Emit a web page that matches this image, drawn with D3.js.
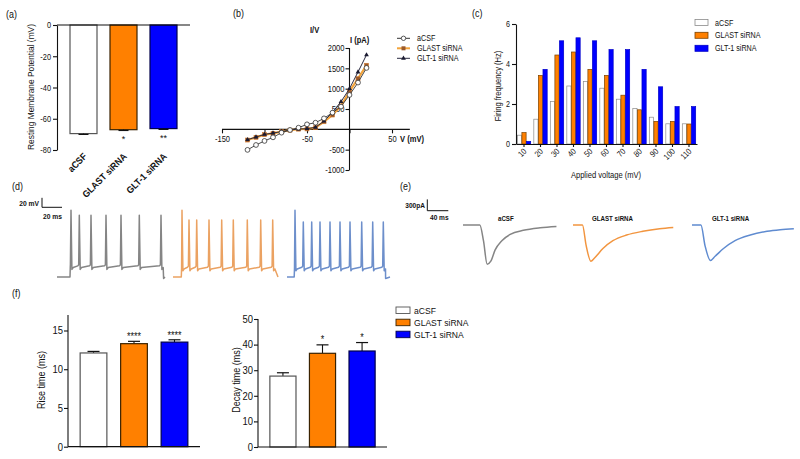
<!DOCTYPE html>
<html><head><meta charset="utf-8">
<script src="https://cdn.jsdelivr.net/npm/d3@7"></script>
<style>
body{margin:0;background:#fff}
svg{display:block;font-family:"Liberation Sans",Arial,Helvetica,sans-serif}
</style></head><body>
<svg id="c" width="800" height="459"></svg>
<script>
// ================= DATA =================
const groups = ["aCSF", "GLAST siRNA", "GLT-1 siRNA"];
// (a) resting membrane potential (mV)
const rmpMean = [-69.5, -67.0, -66.3];
const rmpErr = [0.5, 0.5, 0.5];
const rmpStars = ["", "*", "**"];
const rmpTicks = [0, -20, -40, -60, -80];
// (b) I/V curves
const ivVoltage = [-120, -110, -100, -90, -80, -70, -60, -50, -40, -30, -20, -10, 0, 10, 20];
const ivACSF  = [-505, -385, -285, -197, -82, -16, 40, 123, 163, 270, 410, 560, 845, 1150, 1510];
const ivGLAST = [-263, -197, -130, -98, -58, -20, 5, 10, 40, 187, 352, 575, 935, 1245, 1575];
const ivGLT1  = [-255, -190, -125, -92, -55, -18, 8, 15, 50, 200, 420, 680, 1000, 1410, 1830];
const ivXTicks = [-150, -100, -50, 0, 50];
const ivXLabels = ["-150", "", "-50", "", "50"];
const ivYTicks = [-1000, -500, 500, 1000, 1500, 2000];
// (c) firing frequency
const voltSteps = ["10", "20", "30", "40", "50", "60", "70", "80", "90", "100", "110"];
const ffACSF  = [0.44, 1.24, 2.12, 2.90, 3.13, 2.79, 2.24, 1.78, 1.34, 1.01, 1.01];
const ffGLAST = [0.57, 3.43, 4.45, 4.60, 3.73, 3.43, 2.44, 1.71, 1.13, 1.13, 1.00];
const ffGLT1  = [0.13, 3.73, 5.16, 5.31, 5.16, 4.72, 4.72, 3.73, 2.86, 1.87, 1.87];
const ffTicks = [0, 2, 4, 6];
// (d) action potential traces (ms, mV)
const apSpikesACSF  = [14, 22.3, 34, 49, 64, 82.3, 104];
const apPeaksACSF   = [71, 60, 60, 60, 60, 60, 60];
const apSpikesGLAST = [9, 16, 23.7, 36, 48.7, 60.3, 74.3, 87.7, 99.7];
const apPeaksGLAST  = [71, 50, 50, 50, 50, 50, 50, 50, 50];
const apSpikesGLT1  = [8, 16.3, 24.7, 33, 43, 53, 63, 74.7, 85.7, 96.3];
const apPeaksGLT1   = [71, 46, 46, 46, 46, 46, 46, 46, 46, 46];
const apStepOn   = [13, 8.3, 7.2];
const apStepOff  = [106, 101, 98];
const apEnd      = [108, 105, 103];
const apBase     = [-70, -70, -70];
const apPlateau  = [-48, -51, -51];
// (e) EPSC traces (ms, pA)
const epscTimeACSF  = [0, 32, 39, 46, 53, 61, 74, 90, 115, 147, 178];
const epscCurACSF   = [0, 0, -417, -1040, -960, -667, -417, -250, -142, -75, -42];
const epscTimeGLAST = [0, 18, 25, 34, 41, 57, 76, 102, 133, 165, 191];
const epscCurGLAST  = [0, 0, -542, -960, -875, -625, -417, -267, -167, -100, -67];
const epscTimeGLT1  = [0, 17, 25, 35, 44, 60, 82, 111, 143, 168, 194];
const epscCurGLT1   = [0, 0, -560, -940, -830, -625, -417, -267, -167, -125, -100];
// (f) rise / decay time (ms)
const riseMean = [12.1, 13.3, 13.5];
const riseErr  = [0.2, 0.3, 0.3];
const riseStars = ["", "****", "****"];
const riseTicks = [0, 5, 10, 15];
const decayMean = [27.7, 36.6, 37.5];
const decayErr  = [1.3, 3.3, 3.3];
const decayStars = ["", "*", "*"];
const decayTicks = [0, 10, 20, 30, 40, 50];

// ================= STYLE =================
const barFill = ["#ffffff", "#ff8000", "#0000ff"];
const barStroke = ["#555555", "#3a2200", "#00004a"];
const traceColor = ["#858585", "#eba262", "#6d8fcb"];
const epscColor = ["#858585", "#f2953f", "#5f8bd0"];
const INK = "#111";

const svg = d3.select("#c");

function styleAxis(g, size) {
  g.attr("font-size", size).attr("font-family", null);
  g.selectAll(".domain").attr("stroke", INK).attr("stroke-width", 1.1);
  g.selectAll(".tick line").attr("stroke", INK).attr("stroke-width", 1.1);
  g.selectAll(".tick text").attr("fill", INK);
}
function condense(sel, f) {
  sel.each(function () {
    const w = this.getComputedTextLength();
    if (w > 0) d3.select(this).attr("textLength", w * f).attr("lengthAdjust", "spacingAndGlyphs");
  });
}
function label(g, txt, x, y, size, opts = {}) {
  const t = g.append("text").attr("x", x).attr("y", y).attr("font-size", size)
    .attr("fill", INK).text(txt);
  if (opts.anchor) t.attr("text-anchor", opts.anchor);
  if (opts.bold) t.attr("font-weight", "bold");
  if (opts.rotate) t.attr("transform", `rotate(${opts.rotate},${x},${y})`);
  return t;
}

// ================= PANEL LABELS =================
const gL = svg.append("g");
label(gL, "(a)", 6, 18, 10.5);
label(gL, "(b)", 233, 17, 10.5);
label(gL, "(c)", 472, 17, 10.5);
label(gL, "(d)", 12, 190, 10.5);
label(gL, "(e)", 400, 190, 10.5);
label(gL, "(f)", 12, 297, 10.5);
condense(gL.selectAll("text"), 0.85);

// ================= (a) =================
{
  const g = svg.append("g");
  const x = d3.scaleBand().domain(groups).range([57, 190]).paddingInner(0.325).paddingOuter(0.325);
  const y = d3.scaleLinear().domain([-80, 0]).range([150, 25]);
  g.selectAll("rect").data(groups).join("rect")
    .attr("x", d => x(d)).attr("width", x.bandwidth())
    .attr("y", y(0)).attr("height", (d, i) => y(rmpMean[i]) - y(0))
    .attr("fill", (d, i) => barFill[i]).attr("stroke", (d, i) => barStroke[i]).attr("stroke-width", 1.2);
  groups.forEach((d, i) => {
    const cx = x(d) + x.bandwidth() / 2;
    const y1 = y(rmpMean[i]), y2 = y(rmpMean[i] - rmpErr[i]);
    g.append("line").attr("x1", cx).attr("x2", cx).attr("y1", y1).attr("y2", y2).attr("stroke", INK);
    g.append("line").attr("x1", cx - 5).attr("x2", cx + 5).attr("y1", y2).attr("y2", y2).attr("stroke", INK).attr("stroke-width", 1.2);
    if (rmpStars[i]) label(g, rmpStars[i], cx, y2 + 12, 9, { anchor: "middle" }).attr("class", "star");
    label(g, d, cx + 4, 157, 9.5, { anchor: "end", bold: true, rotate: -45 }).attr("class", "xl");
  });
  g.append("g").attr("transform", "translate(57,0)")
    .call(d3.axisLeft(y).tickValues(rmpTicks).tickFormat(d => String(d)).tickSize(4).tickPadding(2).tickSizeOuter(0))
    .call(styleAxis, 9);
  g.append("line").attr("x1", 57).attr("x2", 190).attr("y1", y(0)).attr("y2", y(0)).attr("stroke", INK).attr("stroke-width", 1.2);
  label(g, "Resting Membrane Potential (mV)", 34, 87, 9.5, { anchor: "middle", rotate: -90 }).attr("class", "yl");
  condense(g.selectAll(".tick text"), 0.82);
  condense(g.selectAll(".xl"), 0.92);
  condense(g.selectAll(".yl"), 0.88);
}

// ================= (b) =================
{
  const g = svg.append("g");
  const x = d3.scaleLinear().domain([-150, 50]).range([222, 392]);
  const y = d3.scaleLinear().domain([-1000, 2000]).range([170, 48]);
  const xa = g.append("g").attr("transform", `translate(0,${y(0)})`)
    .call(d3.axisBottom(x).tickValues(ivXTicks).tickFormat((d, i) => ivXLabels[i]).tickSize(4).tickPadding(2).tickSizeOuter(0))
    .call(styleAxis, 9);
  xa.select(".domain").remove();
  g.append("line").attr("x1", x(-150)).attr("x2", x(71)).attr("y1", y(0)).attr("y2", y(0)).attr("stroke", INK).attr("stroke-width", 1.1);
  g.append("g").attr("transform", `translate(${x(0)},0)`)
    .call(d3.axisLeft(y).tickValues(ivYTicks).tickFormat(d => String(d)).tickSize(4).tickPadding(1).tickSizeOuter(0))
    .call(styleAxis, 9);
  g.select("g:last-child .domain").attr("d", `M0,${y(-1000)}V${y(2000)}`);
  const line = d3.line().x(d => x(d[0])).y(d => y(d[1]));
  const pts = arr => ivVoltage.map((v, i) => [v, arr[i]]);
  // GLAST
  g.append("path").attr("d", line(pts(ivGLAST))).attr("fill", "none").attr("stroke", "#f3a43b").attr("stroke-width", 2.2);
  g.selectAll(".sq").data(pts(ivGLAST)).join("rect").attr("class", "sq")
    .attr("x", d => x(d[0]) - 2).attr("y", d => y(d[1]) - 2).attr("width", 4).attr("height", 4)
    .attr("fill", "#9c5a2a").attr("stroke", "#d07a30").attr("stroke-width", 0.6);
  // GLT-1
  g.append("path").attr("d", line(pts(ivGLT1))).attr("fill", "none").attr("stroke", "#2a2a40").attr("stroke-width", 1);
  g.selectAll(".tr").data(pts(ivGLT1)).join("path").attr("class", "tr")
    .attr("d", d3.symbol(d3.symbolTriangle, 10)).attr("transform", d => `translate(${x(d[0])},${y(d[1])})`)
    .attr("fill", "#1a1a30");
  // aCSF
  g.append("path").attr("d", line(pts(ivACSF))).attr("fill", "none").attr("stroke", "#333").attr("stroke-width", 0.9);
  g.selectAll(".ci").data(pts(ivACSF)).join("circle").attr("class", "ci")
    .attr("cx", d => x(d[0])).attr("cy", d => y(d[1])).attr("r", 2.4)
    .attr("fill", "#fff").attr("stroke", "#333").attr("stroke-width", 0.8);
  label(g, "I/V", 310, 33, 9, { bold: true }).attr("class", "t");
  label(g, "I (pA)", 350, 43, 9, { bold: true }).attr("class", "t");
  label(g, "V (mV)", 400, 142, 9, { bold: true }).attr("class", "t");
  // legend
  const lg = g.append("g");
  const ly = [38.3, 48.3, 58.3];
  lg.append("line").attr("x1", 397).attr("x2", 410).attr("y1", ly[0]).attr("y2", ly[0]).attr("stroke", "#333");
  lg.append("circle").attr("cx", 403.5).attr("cy", ly[0]).attr("r", 2.2).attr("fill", "#fff").attr("stroke", "#333").attr("stroke-width", 0.8);
  lg.append("line").attr("x1", 397).attr("x2", 410).attr("y1", ly[1]).attr("y2", ly[1]).attr("stroke", "#f3a43b").attr("stroke-width", 2);
  lg.append("rect").attr("x", 401.5).attr("y", ly[1] - 2).attr("width", 4).attr("height", 4).attr("fill", "#9c5a2a");
  lg.append("line").attr("x1", 397).attr("x2", 410).attr("y1", ly[2]).attr("y2", ly[2]).attr("stroke", "#2a2a40");
  lg.append("path").attr("d", d3.symbol(d3.symbolTriangle, 10)).attr("transform", `translate(403.5,${ly[2]})`).attr("fill", "#1a1a30");
  groups.forEach((d, i) => label(lg, d, 417, ly[i] + 3, 8.5).attr("class", "lt"));
  condense(g.selectAll("text"), 0.84);
}

// ================= (c) =================
{
  const g = svg.append("g");
  const x = d3.scaleBand().domain(voltSteps).range([516, 697]).paddingInner(0.19).paddingOuter(0.08);
  const xs = d3.scaleBand().domain(groups).range([0, x.bandwidth()]).paddingInner(0.08);
  const y = d3.scaleLinear().domain([0, 6]).range([144, 24]);
  const series = [ffACSF, ffGLAST, ffGLT1];
  const cStroke = ["#8a8a8a", "#7a4200", "#0000c8"];
  voltSteps.forEach((v, j) => {
    groups.forEach((gname, i) => {
      g.append("rect").attr("x", x(v) + xs(gname)).attr("width", xs.bandwidth())
        .attr("y", y(series[i][j])).attr("height", y(0) - y(series[i][j]))
        .attr("fill", barFill[i]).attr("stroke", cStroke[i]).attr("stroke-width", 0.7);
    });
  });
  g.append("g").attr("transform", "translate(516,0)")
    .call(d3.axisLeft(y).tickValues(ffTicks).tickFormat(d => String(d)).tickSize(4).tickPadding(2).tickSizeOuter(0))
    .call(styleAxis, 8.5);
  const xa = g.append("g").attr("transform", `translate(0,${y(0)})`)
    .call(d3.axisBottom(x).tickSize(3).tickSizeOuter(0))
    .call(styleAxis, 8.5);
  xa.selectAll(".tick text").attr("text-anchor", "end").attr("dy", null).attr("y", 0)
    .attr("transform", "translate(3,8) rotate(-45)");
  label(g, "Firing frequency (Hz)", 501, 86, 9, { anchor: "middle", rotate: -90 });
  label(g, "Applied voltage (mV)", 606, 178, 9, { anchor: "middle" });
  const ly = [22.5, 35.3, 48.3];
  groups.forEach((d, i) => {
    g.append("rect").attr("x", 695).attr("y", ly[i] - 3).attr("width", 13).attr("height", 6)
      .attr("fill", barFill[i]).attr("stroke", cStroke[i]).attr("stroke-width", 0.8);
    label(g, d, 715, ly[i] + 3, 8.5);
  });
  condense(g.selectAll("text"), 0.84);
}

// ================= (d) =================
{
  const g = svg.append("g");
  const offsets = [57, 173, 287];
  const t = d3.scaleLinear().domain([0, 100]).range([0, 100]);
  const v = d3.scaleLinear().domain([-70, 65]).range([277, 213]);
  const spikes = [apSpikesACSF, apSpikesGLAST, apSpikesGLT1];
  const peaks = [apPeaksACSF, apPeaksGLAST, apPeaksGLT1];
  function apPoints(k) {
    const base = apBase[k], plat = apPlateau[k], on = apStepOn[k], off = apStepOff[k];
    const p = [[0, base], [on, base], [on + 0.3, plat]];
    spikes[k].forEach((s, i) => {
      p.push([s - 0.6, plat + 4], [s, peaks[k][i]], [s + 0.9, plat - 6], [s + 2.2, plat - 2]);
      if (i < spikes[k].length - 1) p.push([spikes[k][i + 1] - 1.5, plat + 1.5]);
    });
    p.push([off, plat - 1], [off + 0.6, base - 3], [apEnd[k], base]);
    const out = [];
    p.forEach(q => { if (!out.length || q[0] > out[out.length - 1][0]) out.push(q); });
    return out;
  }
  const line = d3.line().x(d => t(d[0])).y(d => v(d[1]));
  [0, 1, 2].forEach(k => {
    g.append("path").attr("transform", `translate(${offsets[k]},0)`)
      .attr("d", line(apPoints(k))).attr("fill", "none")
      .attr("stroke", traceColor[k]).attr("stroke-width", 1.5).attr("stroke-linejoin", "round");
  });
  // scale bar: 20 mV / 20 ms
  const sx = 42, sy = 207.3;
  const h = v(-70) - v(-50), w = t(20) - t(0);
  g.append("path").attr("d", `M${sx},${sy - h}V${sy}H${sx + w}`).attr("fill", "none").attr("stroke", INK).attr("stroke-width", 1);
  label(g, "20 mV", 39, 206, 8, { anchor: "end", bold: true });
  label(g, "20 ms", 43, 219, 8, { bold: true });
  condense(g.selectAll("text"), 0.84);
}

// ================= (e) =================
{
  const g = svg.append("g");
  const offsets = [463, 573, 692];
  const t = d3.scaleLinear().domain([0, 40]).range([0, 21]);
  const c = d3.scaleLinear().domain([0, -300]).range([225, 236.3]);
  const times = [epscTimeACSF, epscTimeGLAST, epscTimeGLT1];
  const curs = [epscCurACSF, epscCurGLAST, epscCurGLT1];
  const line = d3.line().x(d => t(d[0])).y(d => c(d[1])).curve(d3.curveMonotoneX);
  [0, 1, 2].forEach(k => {
    const pts = times[k].map((tt, i) => [tt, curs[k][i]]);
    g.append("path").attr("transform", `translate(${offsets[k]},0)`)
      .attr("d", line(pts)).attr("fill", "none")
      .attr("stroke", epscColor[k]).attr("stroke-width", 1.5);
  });
  label(g, "aCSF", 498, 221, 7.5, { bold: true });
  label(g, "GLAST siRNA", 592, 221, 7.5, { bold: true });
  label(g, "GLT-1 siRNA", 712, 221, 7.5, { bold: true });
  const sx = 427.3, sy = 210.7;
  const h = c(-300) - c(0), w = t(40) - t(0);
  g.append("path").attr("d", `M${sx},${sy - h}V${sy}H${sx + w}`).attr("fill", "none").attr("stroke", INK).attr("stroke-width", 1);
  label(g, "300pA", 425, 208, 8, { anchor: "end", bold: true });
  label(g, "40 ms", 430, 220, 8, { bold: true });
  condense(g.selectAll("text"), 0.82);
}

// ================= (f) =================
function barPanel(g, x0, x1, yTop, yBot, dom, ticks, mean, err, stars, ylab, ylx, starOff) {
  const x = d3.scaleBand().domain(groups).range([x0, x1]).paddingInner(0.34).paddingOuter(0.3);
  const y = d3.scaleLinear().domain(dom).range([yBot, yTop]);
  groups.forEach((d, i) => {
    const cx = x(d) + x.bandwidth() / 2;
    const ye = y(mean[i] + err[i]);
    g.append("line").attr("x1", cx).attr("x2", cx).attr("y1", y(mean[i])).attr("y2", ye).attr("stroke", INK).attr("stroke-width", 1.1);
    g.append("line").attr("x1", cx - 6).attr("x2", cx + 6).attr("y1", ye).attr("y2", ye).attr("stroke", INK).attr("stroke-width", 1.2);
    g.append("rect").attr("x", x(d)).attr("width", x.bandwidth())
      .attr("y", y(mean[i])).attr("height", y(0) - y(mean[i]))
      .attr("fill", barFill[i]).attr("stroke", barStroke[i]).attr("stroke-width", 1.2);
    if (stars[i]) label(g, stars[i], cx, ye - starOff, 10, { anchor: "middle" });
  });
  g.append("g").attr("transform", `translate(${x0},0)`)
    .call(d3.axisLeft(y).tickValues(ticks).tickSize(4).tickPadding(1).tickSizeOuter(0))
    .call(styleAxis, 10.5);
  g.selectAll(".domain").attr("d", `M0,${yTop}V${yBot}`);
  g.append("line").attr("x1", x0).attr("x2", x1).attr("y1", y(0)).attr("y2", y(0)).attr("stroke", INK).attr("stroke-width", 1.2);
  label(g, ylab, ylx, 380, 10, { anchor: "middle", rotate: -90 });
}
{
  const g1 = svg.append("g");
  barPanel(g1, 68, 200, 315, 446.7, [0, 17], riseTicks, riseMean, riseErr, riseStars, "Rise time (ms)", 45, 1);
  condense(g1.selectAll("text"), 0.9);
  const g2 = svg.append("g");
  barPanel(g2, 258, 387, 319, 447, [0, 50], decayTicks, decayMean, decayErr, decayStars, "Decay time (ms)", 240, 2);
  condense(g2.selectAll("text"), 0.9);
  const lg = svg.append("g");
  const ly = [310, 322.2, 334.2];
  groups.forEach((d, i) => {
    lg.append("rect").attr("x", 396).attr("y", ly[i] - 3).attr("width", 14).attr("height", 6.5)
      .attr("fill", barFill[i]).attr("stroke", barStroke[i]).attr("stroke-width", 0.9);
    label(lg, d, 414, ly[i] + 3.5, 9.5);
  });
  condense(lg.selectAll("text"), 0.9);
}
</script>
</body></html>
